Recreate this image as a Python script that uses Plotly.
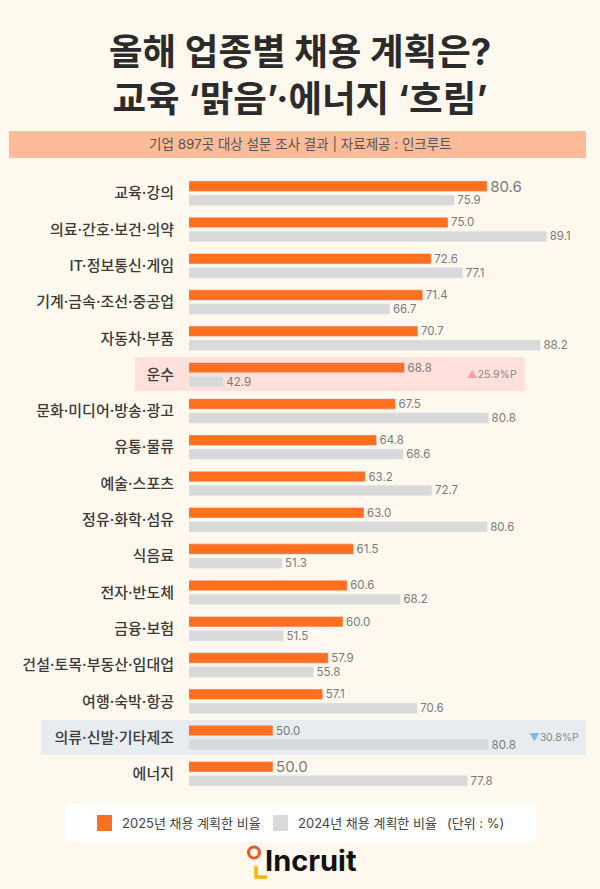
import plotly.graph_objects as go

categories = ["교육·강의", "의료·간호·보건·의약", "IT·정보통신·게임", "기계·금속·조선·중공업", "자동차·부품", "운수",
              "문화·미디어·방송·광고", "유통·물류", "예술·스포츠", "정유·화학·섬유", "식음료", "전자·반도체",
              "금융·보험", "건설·토목·부동산·임대업", "여행·숙박·항공", "의류·신발·기타제조", "에너지"]
plan_2025 = [80.6, 75.0, 72.6, 71.4, 70.7, 68.8, 67.5, 64.8, 63.2, 63.0, 61.5, 60.6, 60.0, 57.9, 57.1, 50.0, 50.0]
plan_2024 = [75.9, 89.1, 77.1, 66.7, 88.2, 42.9, 80.8, 68.6, 72.7, 80.6, 51.3, 68.2, 51.5, 55.8, 70.6, 80.8, 77.8]
name_2025 = "2025년 채용 계획한 비율"
name_2024 = "2024년 채용 계획한 비율"

W, H = 600, 889
FONT = "Inter, 'Noto Sans CJK KR'"
BG = "#FFF8EF"
L, T, B = 189, 175, 97
PH = H - T - B
def px(x): return (x - L) / (W - L)
def py(y): return 1 - (y - T) / PH

fig = go.Figure()
sizes_25 = [15 if i in (0, 16) else 11.5 for i in range(len(categories))]
fig.add_bar(y=categories, x=plan_2025, name=name_2025, orientation="h", marker_color="#FF6F20",
            text=[f"{v:.1f}" for v in plan_2025], textposition="outside", cliponaxis=False, constraintext="none",
            textfont=dict(size=sizes_25, color="#7A7A7A", family=FONT))
fig.add_bar(y=categories, x=plan_2024, name=name_2024, orientation="h", marker_color="#D9D9D9",
            text=[f"{v:.1f}" for v in plan_2024], textposition="outside", cliponaxis=False, constraintext="none",
            textfont=dict(size=11.5, color="#7A7A7A", family=FONT))

def rect(x0, y0, x1, y1, color, layer="below"):
    return dict(type="rect", xref="paper", yref="paper", x0=px(x0), x1=px(x1), y0=py(y0), y1=py(y1),
                fillcolor=color, line_width=0, layer=layer)

shapes = [
    rect(9, 131, 586, 158, "#FFBA98"),
    rect(135, 357, 525, 391, "#FFE0DA"),
    rect(41, 720, 586, 755, "#E6ECF0"),
    rect(66, 804, 536, 842, "#FFFFFF"),
    rect(97, 815, 112, 831, "#FF6F20"),
    rect(273, 815, 288, 831, "#D9D9D9"),
    dict(type="circle", xref="paper", yref="paper", x0=px(248.5), x1=px(259.5), y0=py(847), y1=py(858),
         fillcolor="rgba(0,0,0,0)", line=dict(color="#F0562A", width=3)),
    dict(type="path", xref="paper", yref="paper", line=dict(color="#FFB400", width=3.5),
         path=f"M {px(256)} {py(866)} L {px(256)} {py(877)} L {px(267)} {py(877)}"),
]

def note(x, y, text, size, color="#444444", anchor="center", family=FONT, bold=False):
    return dict(xref="paper", yref="paper", x=px(x), y=py(y), text=f"<b>{text}</b>" if bold else text,
                showarrow=False, xanchor=anchor, yanchor="middle",
                font=dict(size=size, color=color, family=family))

annotations = [
    note(300, 76, "올해 업종별 채용 계획은?<br>교육 ‘맑음’·에너지 ‘흐림’", 36.5, "#2B2B2B", bold=True),
    note(300, 144, "기업 897곳 대상 설문 조사 결과 | 자료제공 : 인크루트", 13.5, "#555555"),
    note(120, 823, name_2025, 13, "#444444", "left"),
    note(296, 823, name_2024, 13, "#444444", "left"),
    note(475, 823, "(단위 : %)", 13, "#444444"),
    note(465, 374, "<span style='color:#F4A0A0'>▲</span>25.9%P", 10.5, "#888888", "left"),
    note(527, 737, "<span style='color:#7DB8E8'>▼</span>30.8%P", 10.5, "#888888", "left"),
    note(263, 860, "Incruit", 29, "#111111", "left", "Inter", True),
]

fig.update_layout(
    width=W, height=H, autosize=False,
    margin=dict(l=L, r=0, t=T, b=B),
    paper_bgcolor=BG, plot_bgcolor="rgba(0,0,0,0)",
    barmode="group", bargap=0.229, bargroupgap=0.25,
    showlegend=False,
    shapes=shapes, annotations=annotations,
    xaxis=dict(range=[38, 38 + (W - L) / 7], visible=False, fixedrange=True),
    yaxis=dict(autorange="reversed", showgrid=False, showline=False, ticks="", ticklabelstandoff=14,
               tickfont=dict(size=15, color="#3A3A3A", family=FONT, weight=500)),
    font=dict(family=FONT),
)
fig.write_html("out.html", config={"displayModeBar": False},
               post_script="document.body.style.margin='0';document.body.style.background='#FFF8EF';")
